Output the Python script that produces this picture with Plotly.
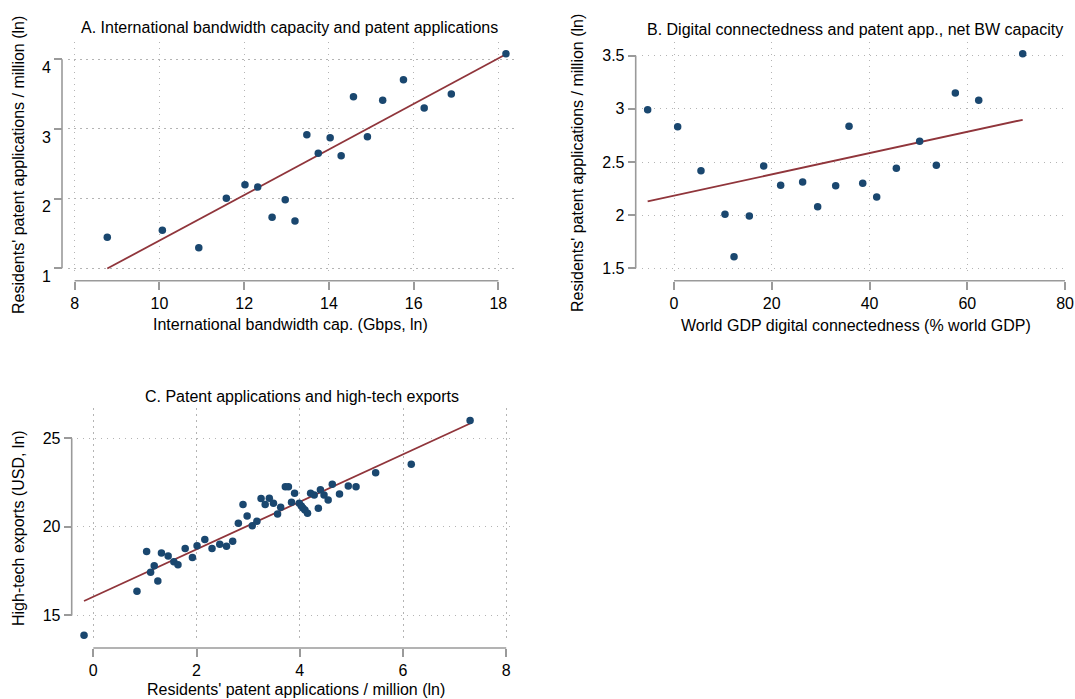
import numpy as np
import plotly.graph_objects as go

W, H = 1075, 699

# ---------------- data ----------------
# Panel A: international bandwidth capacity (Gbps, ln) vs patent applications / million (ln)
a_bw = [8.77, 10.07, 10.93, 11.58, 12.02, 12.32, 12.66, 12.97, 13.20, 13.48,
        13.75, 14.03, 14.29, 14.58, 14.91, 15.27, 15.76, 16.25, 16.89, 18.18]
a_pat = [1.445, 1.546, 1.296, 2.005, 2.200, 2.167, 1.732, 1.985, 1.679, 2.918,
         2.651, 2.875, 2.617, 3.464, 2.889, 3.411, 3.707, 3.301, 3.502, 4.08]

# Panel B: world GDP digital connectedness (% world GDP) vs patent applications (net BW capacity)
b_dig = [-5.39, 0.75, 5.52, 10.43, 12.28, 15.41, 18.35, 21.82, 26.32, 29.39,
         33.08, 35.81, 38.61, 41.47, 45.49, 50.26, 53.67, 57.56, 62.34, 71.34]
b_pat = [2.992, 2.832, 2.418, 2.008, 1.609, 1.992, 2.462, 2.281, 2.312, 2.080,
         2.277, 2.836, 2.300, 2.171, 2.441, 2.695, 2.469, 3.149, 3.080, 3.519]

# Panel C: patent applications / million (ln) vs high-tech exports (USD, ln)
c_pat = [-0.18, 0.846, 1.033, 1.11, 1.18, 1.25, 1.32, 1.45, 1.56, 1.64,
         1.78, 1.92, 2.01, 2.16, 2.30, 2.45, 2.58, 2.70, 2.81, 2.90,
         2.98, 3.08, 3.17, 3.25, 3.33, 3.41, 3.49, 3.57, 3.63, 3.72,
         3.78, 3.84, 3.90, 3.99, 4.03, 4.06, 4.10, 4.15, 4.21, 4.28,
         4.36, 4.40, 4.47, 4.55, 4.63, 4.77, 4.94, 5.09, 5.47, 6.16, 7.30]
c_hte = [13.89, 16.37, 18.61, 17.44, 17.80, 16.95, 18.52, 18.36, 18.03, 17.87,
         18.78, 18.27, 18.93, 19.29, 18.78, 19.02, 18.91, 19.19, 20.20, 21.26,
         20.61, 20.07, 20.32, 21.60, 21.26, 21.62, 21.34, 20.73, 21.11, 22.26,
         22.26, 21.39, 21.90, 21.34, 21.18, 21.07, 20.96, 20.77, 21.90, 21.80,
         21.05, 22.09, 21.80, 21.52, 22.41, 21.86, 22.31, 22.26, 23.05, 23.54, 26.0]

a_xticks = [8, 10, 12, 14, 16, 18]
a_yticks = [1, 2, 3, 4]
b_xticks = [0, 20, 40, 60, 80]
b_yticks = [1.5, 2, 2.5, 3, 3.5]
b_yticklabels = ["1.5", "2", "2.5", "3", "3.5"]
c_xticks = [0, 2, 4, 6, 8]
c_yticks = [15, 20, 25]

titles = ["A. International bandwidth capacity and patent applications",
          "B. Digital connectedness and patent app., net BW capacity",
          "C. Patent applications and high-tech exports"]
xtitles = ["International bandwidth cap. (Gbps, ln)",
           "World GDP digital connectedness (% world GDP)",
           "Residents' patent applications / million (ln)"]
ytitles = ["Residents' patent applications / million (ln)",
           "Residents' patent applications / million (ln)",
           "High-tech exports (USD, ln)"]

# ---------------- style ----------------
FONT = "Liberation Sans, Arial, Helvetica, sans-serif"
FS = 16
NAVY = "#1a476f"
MAROON = "#90353b"
AXIS_GRAY = "#9a9a9a"
GRID_GRAY = "#b4b4b4"


def px(x):
    return x / W


def py(y):
    return 1 - y / H


# panel geometry in window pixels: plot box, axis-line positions, ranges
panels = [
    dict(x=a_bw, y=a_pat, xt=a_xticks, yt=a_yticks, ytl=None,
         box=(68.3, 517.0, 41.7, 274.3), xr=(7.85, 18.44), yr=(0.914, 4.253),
         yline=62.0, xline=280.7, yshift=8,
         title=(289, 27), xtitle=(290, 324), ytitle=(18, 165)),
    dict(x=b_dig, y=b_pat, xt=b_xticks, yt=b_yticks, ytl=b_yticklabels,
         box=(641.7, 1066.0, 41.7, 274.3), xr=(-6.61, 80.2), yr=(1.4435, 3.632),
         yline=635.7, xline=280.7, yshift=0,
         title=(855, 30), xtitle=(856, 326), ytitle=(578, 163)),
    dict(x=c_pat, y=c_hte, xt=c_xticks, yt=c_yticks, ytl=None,
         box=(76.7, 515.0, 408.3, 641.7), xr=(-0.322, 8.17), yr=(13.52, 26.693),
         yline=71.7, xline=648.0, yshift=0,
         title=(302, 396), xtitle=(296, 689), ytitle=(18, 528)),
]

fig = go.Figure()
layout = dict(
    width=W, height=H,
    autosize=False,
    margin=dict(l=0, r=0, t=0, b=0, pad=0),
    paper_bgcolor="white", plot_bgcolor="white",
    showlegend=False,
    font=dict(family=FONT, size=FS, color="#000000"),
    annotations=[], shapes=[],
)

for i, p in enumerate(panels, start=1):
    xa = "x" if i == 1 else f"x{i}"
    ya = "y" if i == 1 else f"y{i}"
    xkey = "xaxis" if i == 1 else f"xaxis{i}"
    ykey = "yaxis" if i == 1 else f"yaxis{i}"
    x0, x1, y0, y1 = p["box"]

    xs = np.array(p["x"], dtype=float)
    ys = np.array(p["y"], dtype=float)
    slope, icpt = np.polyfit(xs, ys, 1)
    fx = np.array([xs.min(), xs.max()])
    fy = slope * fx + icpt

    fig.add_trace(go.Scatter(x=fx, y=fy, mode="lines", xaxis=xa, yaxis=ya,
                             line=dict(color=MAROON, width=1.8), hoverinfo="skip"))
    fig.add_trace(go.Scatter(x=xs, y=ys, mode="markers", xaxis=xa, yaxis=ya,
                             marker=dict(color=NAVY, size=7.5, line=dict(width=0))))

    common = dict(showline=False, zeroline=False, showgrid=True, automargin=False,
                  gridcolor=GRID_GRAY, gridwidth=1, griddash="1.5px,4.5px",
                  ticks="outside", ticklen=8, tickwidth=1.6, tickcolor=AXIS_GRAY,
                  tickfont=dict(family=FONT, size=FS, color="#000000"),
                  ticklabeloverflow="allow",
                  anchor="free", fixedrange=True)
    layout[xkey] = dict(common, domain=[px(x0), px(x1)], range=list(p["xr"]),
                        position=py(p["xline"]), tickvals=p["xt"], side="bottom")
    yax = dict(common, domain=[py(y1), py(y0)], range=list(p["yr"]),
               position=px(p["yline"]), tickvals=p["yt"], side="left")
    if p["ytl"] is not None:
        yax["ticktext"] = p["ytl"]
    if p["yshift"]:
        yax["ticklabelshift"] = p["yshift"]
    layout[ykey] = yax

    # detached axis lines spanning the tick range
    layout["shapes"].append(dict(type="line", xref=xa, yref="paper",
                                 x0=p["xt"][0], x1=p["xt"][-1],
                                 y0=py(p["xline"]), y1=py(p["xline"]),
                                 line=dict(color=AXIS_GRAY, width=1.6)))
    layout["shapes"].append(dict(type="line", xref="paper", yref=ya,
                                 x0=px(p["yline"]), x1=px(p["yline"]),
                                 y0=p["yt"][0], y1=p["yt"][-1],
                                 line=dict(color=AXIS_GRAY, width=1.6)))

    tx, ty = p["title"]
    layout["annotations"].append(dict(text=titles[i - 1], xref="paper", yref="paper",
                                      x=px(tx), y=py(ty), xanchor="center", yanchor="middle",
                                      showarrow=False, font=dict(family=FONT, size=FS, color="#000000")))
    tx, ty = p["xtitle"]
    layout["annotations"].append(dict(text=xtitles[i - 1], xref="paper", yref="paper",
                                      x=px(tx), y=py(ty), xanchor="center", yanchor="middle",
                                      showarrow=False, font=dict(family=FONT, size=FS, color="#000000")))
    tx, ty = p["ytitle"]
    layout["annotations"].append(dict(text=ytitles[i - 1], xref="paper", yref="paper",
                                      x=px(tx), y=py(ty), xanchor="center", yanchor="middle",
                                      textangle=-90, showarrow=False,
                                      font=dict(family=FONT, size=FS, color="#000000")))

fig.update_layout(**layout)
fig.write_html("out.html",
               config=dict(displayModeBar=False),
               post_script="document.body.style.margin='0';document.body.style.overflow='hidden';")
